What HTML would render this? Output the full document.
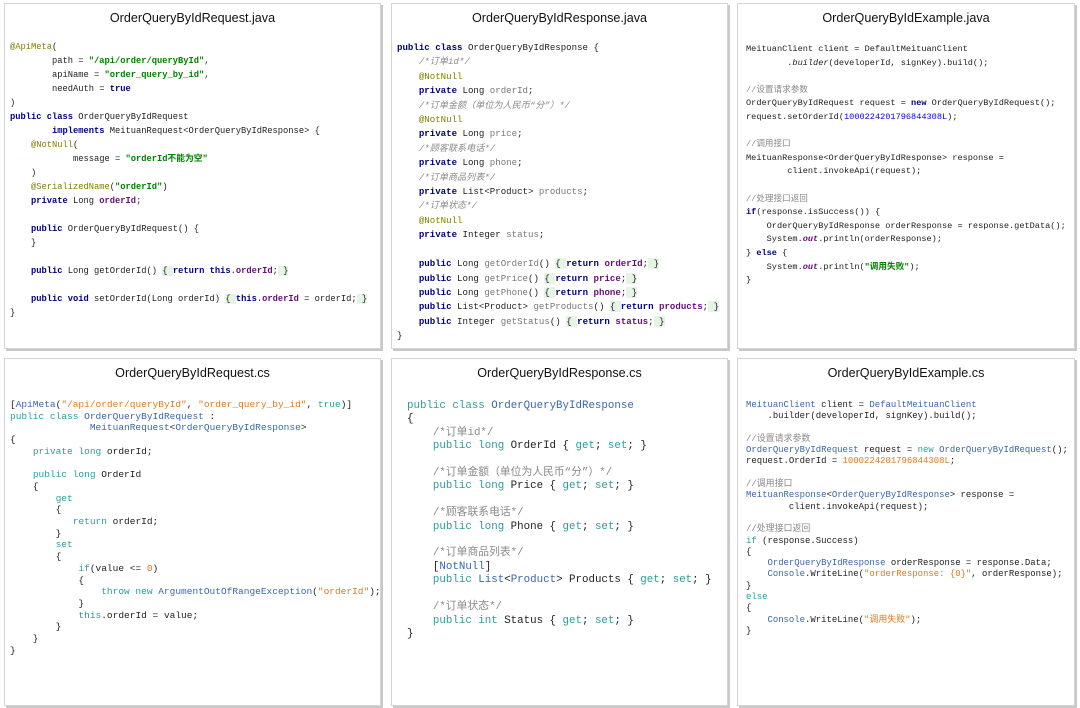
<!DOCTYPE html>
<html><head><meta charset="utf-8">
<style>
html,body{margin:0;padding:0;background:#fff;width:1080px;height:708px;overflow:hidden;position:relative}
.p{position:absolute;background:#fff;border:1px solid #d4d4d4;box-shadow:2px 2px 0 #c8c8c8;box-sizing:border-box}
.t{position:absolute;left:0;right:0;text-align:center;font-family:"Liberation Sans",Arial,sans-serif;font-size:12.6px;color:#111;top:7px}
pre{position:absolute;margin:0;font-family:"Liberation Mono","Noto Sans CJK SC",monospace;color:#222;white-space:pre}
.j .k{color:#000080;font-weight:bold}
.j .s{color:#008000;font-weight:bold}
.j .a{color:#808000}
.j .f{color:#660e7a;font-weight:bold}
.j .c{color:#8a8a8a;font-style:italic}
.j .g{color:#777}
.j .n{color:#0000ff}
.j .o{color:#660e7a;font-style:italic;font-weight:bold}
.j .h{background:#e6f4e6}
.cs .k{color:#2a9d9d}
.cs .ty{color:#3a66b0}
.cs .s{color:#e07a1f}
.cs .c{color:#8a8a8a}
.cs .n{color:#e07a1f}
</style></head><body>

<div class="p" style="left:4px;top:3px;width:377px;height:346px">
<div class="t">OrderQueryByIdRequest.java</div>
<pre class="j" style="left:5px;top:36px;font-size:8.75px;line-height:14px"><span class="a">@ApiMeta</span>(
        path = <span class="s">"/api/order/queryById"</span>,
        apiName = <span class="s">"order_query_by_id"</span>,
        needAuth = <span class="k">true</span>
)
<span class="k">public class</span> OrderQueryByIdRequest
        <span class="k">implements</span> MeituanRequest&lt;OrderQueryByIdResponse&gt; {
    <span class="a">@NotNull</span>(
            message = <span class="s">"orderId不能为空"</span>
    )
    <span class="a">@SerializedName</span>(<span class="s">"orderId"</span>)
    <span class="k">private</span> Long <span class="f">orderId</span>;

    <span class="k">public</span> OrderQueryByIdRequest() {
    }

    <span class="k">public</span> Long getOrderId() <span class="h">{ </span><span class="k">return this</span>.<span class="f">orderId</span>;<span class="h"> }</span>

    <span class="k">public void</span> setOrderId(Long orderId) <span class="h">{ </span><span class="k">this</span>.<span class="f">orderId</span> = orderId;<span class="h"> }</span>
}</pre>
</div>

<div class="p" style="left:391px;top:3px;width:337px;height:346px">
<div class="t">OrderQueryByIdResponse.java</div>
<pre class="j" style="left:5px;top:37px;font-size:9.1px;line-height:14.4px"><span class="k">public class</span> OrderQueryByIdResponse {
    <span class="c">/*订单id*/</span>
    <span class="a">@NotNull</span>
    <span class="k">private</span> Long <span class="g">orderId</span>;
    <span class="c">/*订单金额（单位为人民币“分”）*/</span>
    <span class="a">@NotNull</span>
    <span class="k">private</span> Long <span class="g">price</span>;
    <span class="c">/*顾客联系电话*/</span>
    <span class="k">private</span> Long <span class="g">phone</span>;
    <span class="c">/*订单商品列表*/</span>
    <span class="k">private</span> List&lt;Product&gt; <span class="g">products</span>;
    <span class="c">/*订单状态*/</span>
    <span class="a">@NotNull</span>
    <span class="k">private</span> Integer <span class="g">status</span>;

    <span class="k">public</span> Long <span class="g">getOrderId</span>() <span class="h">{ </span><span class="k">return</span> <span class="f">orderId</span>;<span class="h"> }</span>
    <span class="k">public</span> Long <span class="g">getPrice</span>() <span class="h">{ </span><span class="k">return</span> <span class="f">price</span>;<span class="h"> }</span>
    <span class="k">public</span> Long <span class="g">getPhone</span>() <span class="h">{ </span><span class="k">return</span> <span class="f">phone</span>;<span class="h"> }</span>
    <span class="k">public</span> List&lt;Product&gt; <span class="g">getProducts</span>() <span class="h">{ </span><span class="k">return</span> <span class="f">products</span>;<span class="h"> }</span>
    <span class="k">public</span> Integer <span class="g">getStatus</span>() <span class="h">{ </span><span class="k">return</span> <span class="f">status</span>;<span class="h"> }</span>
}</pre>
</div>

<div class="p" style="left:737px;top:3px;width:338px;height:346px">
<div class="t">OrderQueryByIdExample.java</div>
<pre class="j" style="left:8px;top:39px;font-size:8.6px;line-height:13.6px">MeituanClient client = DefaultMeituanClient
        .<i>builder</i>(developerId, signKey).build();

<span class="c" style="font-style:normal">//设置请求参数</span>
OrderQueryByIdRequest request = <span class="k">new</span> OrderQueryByIdRequest();
request.setOrderId(<span class="n">1000224201796844308L</span>);

<span class="c" style="font-style:normal">//调用接口</span>
MeituanResponse&lt;OrderQueryByIdResponse&gt; response =
        client.invokeApi(request);

<span class="c" style="font-style:normal">//处理接口返回</span>
<span class="k">if</span>(response.isSuccess()) {
    OrderQueryByIdResponse orderResponse = response.getData();
    System.<span class="o">out</span>.println(orderResponse);
} <span class="k">else</span> {
    System.<span class="o">out</span>.println(<span class="s">"调用失败"</span>);
}</pre>
</div>

<div class="p" style="left:4px;top:358px;width:377px;height:348px">
<div class="t">OrderQueryByIdRequest.cs</div>
<pre class="cs" style="left:5px;top:40px;font-size:9.5px;line-height:11.7px">[<span class="ty">ApiMeta</span>(<span class="s">"/api/order/queryById"</span>, <span class="s">"order_query_by_id"</span>, <span class="k">true</span>)]
<span class="k">public class</span> <span class="ty">OrderQueryByIdRequest</span> :
              <span class="ty">MeituanRequest</span>&lt;<span class="ty">OrderQueryByIdResponse</span>&gt;
{
    <span class="k">private long</span> orderId;

    <span class="k">public long</span> OrderId
    {
        <span class="k">get</span>
        {
           <span class="k">return</span> orderId;
        }
        <span class="k">set</span>
        {
            <span class="k">if</span>(value &lt;= <span class="n">0</span>)
            {
                <span class="k">throw new</span> <span class="ty">ArgumentOutOfRangeException</span>(<span class="s">"orderId"</span>);
            }
            <span class="k">this</span>.orderId = value;
        }
    }
}</pre>
</div>

<div class="p" style="left:391px;top:358px;width:337px;height:348px">
<div class="t">OrderQueryByIdResponse.cs</div>
<pre class="cs" style="left:15px;top:41px;font-size:10.8px;line-height:13.4px"><span class="k">public class</span> <span class="ty">OrderQueryByIdResponse</span>
{
    <span class="c">/*订单id*/</span>
    <span class="k">public long</span> OrderId { <span class="k">get</span>; <span class="k">set</span>; }

    <span class="c">/*订单金额（单位为人民币“分”）*/</span>
    <span class="k">public long</span> Price { <span class="k">get</span>; <span class="k">set</span>; }

    <span class="c">/*顾客联系电话*/</span>
    <span class="k">public long</span> Phone { <span class="k">get</span>; <span class="k">set</span>; }

    <span class="c">/*订单商品列表*/</span>
    [<span class="ty">NotNull</span>]
    <span class="k">public</span> <span class="ty">List</span>&lt;<span class="ty">Product</span>&gt; Products { <span class="k">get</span>; <span class="k">set</span>; }

    <span class="c">/*订单状态*/</span>
    <span class="k">public int</span> Status { <span class="k">get</span>; <span class="k">set</span>; }
}</pre>
</div>

<div class="p" style="left:737px;top:358px;width:338px;height:348px">
<div class="t">OrderQueryByIdExample.cs</div>
<pre class="cs" style="left:8px;top:41px;font-size:8.95px;line-height:11.3px"><span class="ty">MeituanClient</span> client = <span class="ty">DefaultMeituanClient</span>
    .builder(developerId, signKey).build();

<span class="c">//设置请求参数</span>
<span class="ty">OrderQueryByIdRequest</span> request = <span class="k">new</span> <span class="ty">OrderQueryByIdRequest</span>();
request.OrderId = <span class="n">1000224201796844308L</span>;

<span class="c">//调用接口</span>
<span class="ty">MeituanResponse</span>&lt;<span class="ty">OrderQueryByIdResponse</span>&gt; response =
        client.invokeApi(request);

<span class="c">//处理接口返回</span>
<span class="k">if</span> (response.Success)
{
    <span class="ty">OrderQueryByIdResponse</span> orderResponse = response.Data;
    <span class="ty">Console</span>.WriteLine(<span class="s">"orderResponse: {0}"</span>, orderResponse);
}
<span class="k">else</span>
{
    <span class="ty">Console</span>.WriteLine(<span class="s">"调用失败"</span>);
}</pre>
</div>

</body></html>
